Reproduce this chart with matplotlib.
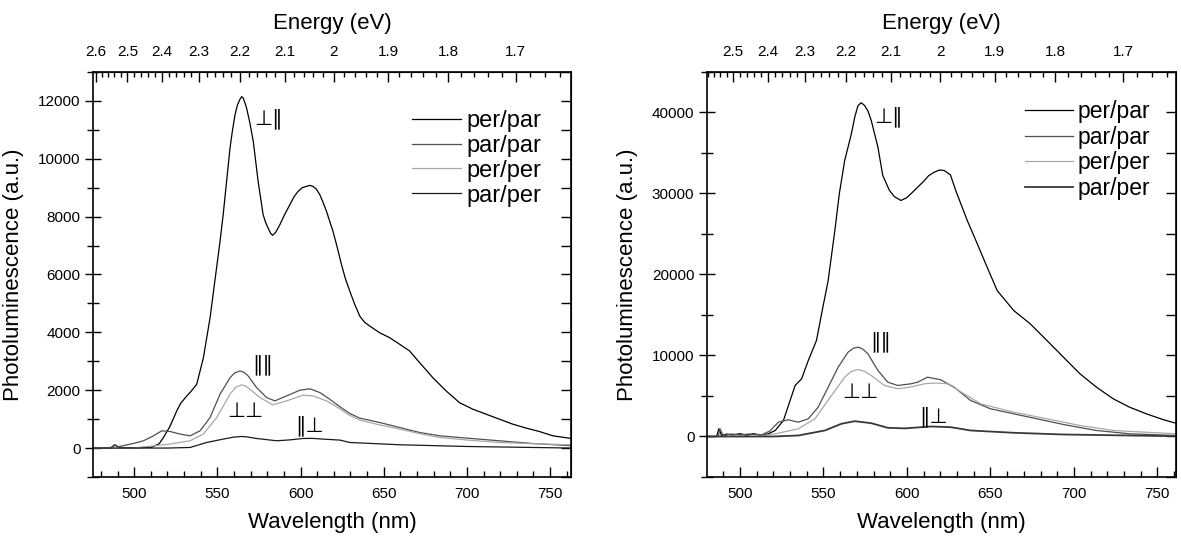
"""
Photoluminescence spectra, 4 polarisation configurations (two samples),
with energy scale on the top axis.
"""

import matplotlib
matplotlib.use("Agg")
import matplotlib.pyplot as plt
from matplotlib.ticker import MultipleLocator, FixedLocator, FuncFormatter

plt.rcParams["font.family"] = ["Liberation Sans", "DejaVu Sans"]

HC = 1239.84  # eV*nm

# ─────────────────────────────────────────────
#  Data
# ─────────────────────────────────────────────

LABELS = ["per/par", "par/par", "per/per", "par/per"]
E_MAJOR = [1.7, 1.8, 1.9, 2.0, 2.1, 2.2, 2.3, 2.4, 2.5, 2.6]

# --- left panel ---
L_PERPAR_WL = [475, 486, 488.5, 491, 500, 510.6, 515, 517.6, 521.5, 525.6, 528, 531.6,
               534, 537.6, 541.6, 545.6, 549, 551.5, 553.5, 555.5, 557.6, 559, 560.6,
               562, 563.5, 564.6, 565.5, 566.5, 567.6, 569.5, 571.6, 574.5, 577.5, 579,
               580.5, 582, 583.2, 585, 587.6, 590.5, 593.6, 596, 598.5, 601, 603.5,
               605.5, 607.5, 609.5, 611.6, 613.5, 615.6, 619.5, 622, 624.6, 627,
               629.6, 632.6, 635.6, 638.5, 641.6, 647.6, 653.6, 659.6, 665.6, 671.6,
               679.5, 687.5, 695.5, 703.5, 711.5, 719.5, 727.5, 735.6, 743.6, 751.6, 763]
L_PERPAR = [0, 0, 110, 20, 10, 30, 150, 365, 750, 1286, 1550, 1800,
            1950, 2207, 3124, 4503, 6000, 7100, 8069, 9200, 10366, 10950, 11517,
            11850, 12050, 12148, 12100, 11950, 11745, 11250, 10597, 9217, 8069, 7800,
            7607, 7420, 7355, 7450, 7724, 8080, 8414, 8680, 8872, 9000, 9045,
            9080, 9045, 8950, 8759, 8500, 8183, 7493, 6950, 6345, 5850,
            5424, 4966, 4562, 4350, 4217, 3986, 3814, 3586, 3355, 2952,
            2434, 1976, 1572, 1345, 1172, 1000, 828, 690, 572, 424, 330]

L_PARPAR_WL = [475, 486, 488, 490, 499.6, 505.6, 511.6, 516.6, 521.6, 527.6, 533.6, 539.6,
               545.6, 551.6, 557.6, 560.5, 563.6, 566, 568.5, 573.6, 579.6, 584.6, 591.6,
               599.6, 605.6, 611.6, 617.5, 623.6, 629.5, 635.6, 647.6, 659.6, 671.6,
               683.6, 699.6, 719.5, 739.5, 763]
L_PARPAR = [0, 20, 114, 40, 160, 252, 424, 597, 572, 483, 424, 597,
            1055, 1862, 2434, 2600, 2666, 2620, 2493, 2090, 1745, 1631, 1803,
            2000, 2050, 1917, 1690, 1430, 1200, 1034, 883, 710, 538,
            424, 345, 252, 159, 79]

L_PERPER_WL = [475, 499.6, 521.6, 533.6, 541.6, 549.6, 557.6, 561, 564.6, 567, 569.6,
               575.6, 583.4, 591.6, 601.5, 607.5, 615.6, 622.5, 629, 635.6, 647.6,
               659.6, 671.6, 683.6, 699.6, 719.5, 739.5, 763]
L_PERPER = [0, 0, 138, 252, 483, 1055, 1862, 2100, 2183, 2140, 2034,
            1745, 1493, 1631, 1828, 1803, 1631, 1400, 1150, 966, 800,
            655, 500, 366, 280, 193, 150, 114]

L_PARPER_WL = [475, 520, 533.6, 543.6, 553.5, 560, 564.6, 568, 573.6, 585.6, 593,
               601.5, 607, 613.5, 623.6, 629.6, 659.6, 699.6, 739.5, 763]
L_PARPER = [0, 0, 21, 193, 310, 380, 400, 385, 331, 252, 280,
            331, 335, 310, 276, 193, 114, 55, 21, 0]

# --- right panel ---
R_PERPAR_WL = [480, 486, 487.3, 489, 492, 496, 500, 504, 508, 513.1, 517, 521.1, 526,
               530, 533, 536.9, 540.9, 545.8, 549, 552.8, 556.8, 559.5, 562.7, 566.7,
               568.8, 570.7, 572.6, 574.6, 576.6, 578.6, 582.6, 585.5, 589.5, 592.5,
               596.4, 600, 604.4, 607, 610, 613, 616.3, 619.5, 622.3, 626, 629.2,
               636.1, 642.1, 648, 654, 663.9, 673.8, 683.8, 693.7, 703.6, 713.5, 723.5,
               733.3, 743.3, 753.2, 761]
R_PERPAR = [0, 0, 950, 100, 300, 200, 350, 150, 350, 123, 350, 740, 1975,
            4444, 6296, 7123, 9383, 11852, 15300, 19259, 25432, 30000, 34074, 37370,
            39500, 40864, 41200, 40864, 40200, 39012, 35716, 32222, 30370, 29600,
            29136, 29500, 30370, 30900, 31500, 32200, 32630, 32900, 32840, 32300, 30370,
            26667, 23790, 20901, 18025, 15556, 13914, 11852, 9790, 7741, 6086, 4654,
            3617, 2802, 2099, 1642]

R_PARPAR_WL = [480, 487, 488, 490, 495, 500, 505, 513.1, 518, 523, 528.9, 534.9, 540.9,
               546.8, 552.8, 558.8, 564.7, 568, 570.7, 573.5, 576.6, 582.6, 588.5, 594.5,
               602.4, 606.4, 612.3, 620.2, 628.2, 638.1, 650, 663.9, 677.8, 693.7,
               713.5, 733.3, 761]
R_PARPAR = [0, 0, 950, 100, 300, 200, 300, 210, 700, 1765, 2062, 1765, 2185,
            3617, 6086, 8556, 10407, 10900, 11025, 10800, 10210, 8148, 6704, 6296,
            6506, 6704, 7321, 7000, 6086, 4444, 3420, 2802, 2185, 1481,
            741, 333, 123]

R_PERPER_WL = [480, 510, 521.1, 534.9, 544.9, 554.8, 562.7, 566.5, 570.7, 574.5, 578.6,
               586.5, 594.5, 602, 610.4, 617, 624.2, 634.2, 644.1, 663.9, 683.8, 703.6,
               723.5, 761]
R_PERPER = [0, 0, 333, 950, 2185, 5062, 7321, 8000, 8272, 8050, 7531,
            6296, 5889, 6100, 6506, 6600, 6506, 5272, 4037, 3000, 2185, 1358,
            741, 333]

R_PARPER_WL = [480, 520, 534.9, 550.8, 560.7, 568.7, 578.6, 588.5, 598.6, 614.4, 626.3,
               638.1, 663.9, 693.7, 733.3, 761]
R_PARPER = [0, 0, 123, 741, 1568, 1889, 1642, 1074, 1000, 1235, 1148,
            741, 457, 247, 123, 37]


# ─────────────────────────────────────────────
#  Drawing
# ─────────────────────────────────────────────

def draw_panel(ax, series, colors, widths, xlim, ylim, ymajor, yminor,
               notes, leg_anchor, leg_size):
    for (wl, val), lab, c, lw in zip(series, LABELS, colors, widths):
        ax.plot(wl, val, color=c, lw=lw, label=lab)

    ax.set_xlim(*xlim)
    ax.set_ylim(*ylim)
    ax.xaxis.set_major_locator(MultipleLocator(50))
    ax.xaxis.set_minor_locator(MultipleLocator(10))
    ax.yaxis.set_major_locator(MultipleLocator(ymajor))
    ax.yaxis.set_minor_locator(MultipleLocator(yminor))
    ax.tick_params(axis="x", which="both", direction="in", top=False, labelsize=11, pad=7)
    ax.tick_params(axis="x", which="major", length=7, width=1)
    ax.tick_params(axis="x", which="minor", length=4, width=1)
    ax.tick_params(axis="y", which="both", direction="inout", right=False,
                   labelsize=11, pad=3, length=12, width=1)
    ax.tick_params(axis="y", which="minor", length=9)
    for s in ax.spines.values():
        s.set_linewidth(1.2)

    ax.set_xlabel("Wavelength (nm)", fontsize=16, labelpad=8)
    ax.set_ylabel("Photoluminescence (a.u.)", fontsize=16, labelpad=10)

    # right axis: ticks only, inward
    sy = ax.secondary_yaxis("right", functions=(lambda y: y, lambda y: y))
    sy.yaxis.set_major_locator(MultipleLocator(yminor))
    sy.tick_params(direction="in", length=7, width=1, labelright=False)

    # top axis: photon energy
    e_lo, e_hi = HC / xlim[1], HC / xlim[0]
    e_ticks = [e for e in E_MAJOR if e_lo < e < e_hi]
    e_minor = [round(1.62 + 0.02 * i, 2) for i in range(50)]
    e_minor = [e for e in e_minor if e_lo < e < e_hi]
    sx = ax.secondary_xaxis("top", functions=(lambda x: HC / x, lambda e: HC / e))
    sx.xaxis.set_major_locator(FixedLocator(e_ticks))
    sx.xaxis.set_minor_locator(FixedLocator(e_minor))
    sx.xaxis.set_major_formatter(FuncFormatter(lambda v, p: f"{v:g}"))
    sx.tick_params(which="both", direction="in", labelsize=11, pad=9, width=1)
    sx.tick_params(which="major", length=7)
    sx.tick_params(which="minor", length=3.5)
    sx.set_xlabel("Energy (eV)", fontsize=16, labelpad=12)

    for txt, x, y in notes:
        ax.text(x, y, txt, fontsize=15, ha="center", va="center",
                family=["DejaVu Sans"])

    ax.legend(loc="upper left", bbox_to_anchor=leg_anchor, frameon=False,
              fontsize=leg_size, borderpad=0, borderaxespad=0, handlelength=2.1,
              handletextpad=0.2, labelspacing=0.12)


if __name__ == "__main__":
    fig = plt.figure(figsize=(11.81, 5.38), dpi=100)
    ax1 = fig.add_axes([0.0787, 0.1134, 0.4048, 0.7528])
    ax2 = fig.add_axes([0.5986, 0.1134, 0.3970, 0.7528])

    draw_panel(
        ax1,
        [(L_PERPAR_WL, L_PERPAR), (L_PARPAR_WL, L_PARPAR),
         (L_PERPER_WL, L_PERPER), (L_PARPER_WL, L_PARPER)],
        ["#000000", "#505050", "#a8a8a8", "#1a1a1a"],
        [0.9, 0.9, 0.9, 0.9],
        (475.2, 762.6), (-1000, 13000), 2000, 1000,
        [("\u22a5\u2225", 581, 11400), ("\u2225\u2225", 577.5, 2870),
         ("\u22a5\u22a5", 566.6, 1286), ("\u2225\u22a5", 605.3, 769)],
        (0.667, 0.906), 17,
    )
    draw_panel(
        ax2,
        [(R_PERPAR_WL, R_PERPAR), (R_PARPAR_WL, R_PARPAR),
         (R_PERPER_WL, R_PERPER), (R_PARPER_WL, R_PARPER)],
        ["#000000", "#505050", "#a8a8a8", "#383838"],
        [0.9, 0.9, 0.9, 1.3],
        (480.2, 761), (-5000, 45000), 10000, 5000,
        [("\u22a5\u2225", 589, 39530), ("\u2225\u2225", 584.5, 11728),
         ("\u22a5\u22a5", 572.1, 5469), ("\u2225\u22a5", 615.8, 2494)],
        (0.679, 0.931), 16.5,
    )

    fig.savefig("out.png", dpi=100)
